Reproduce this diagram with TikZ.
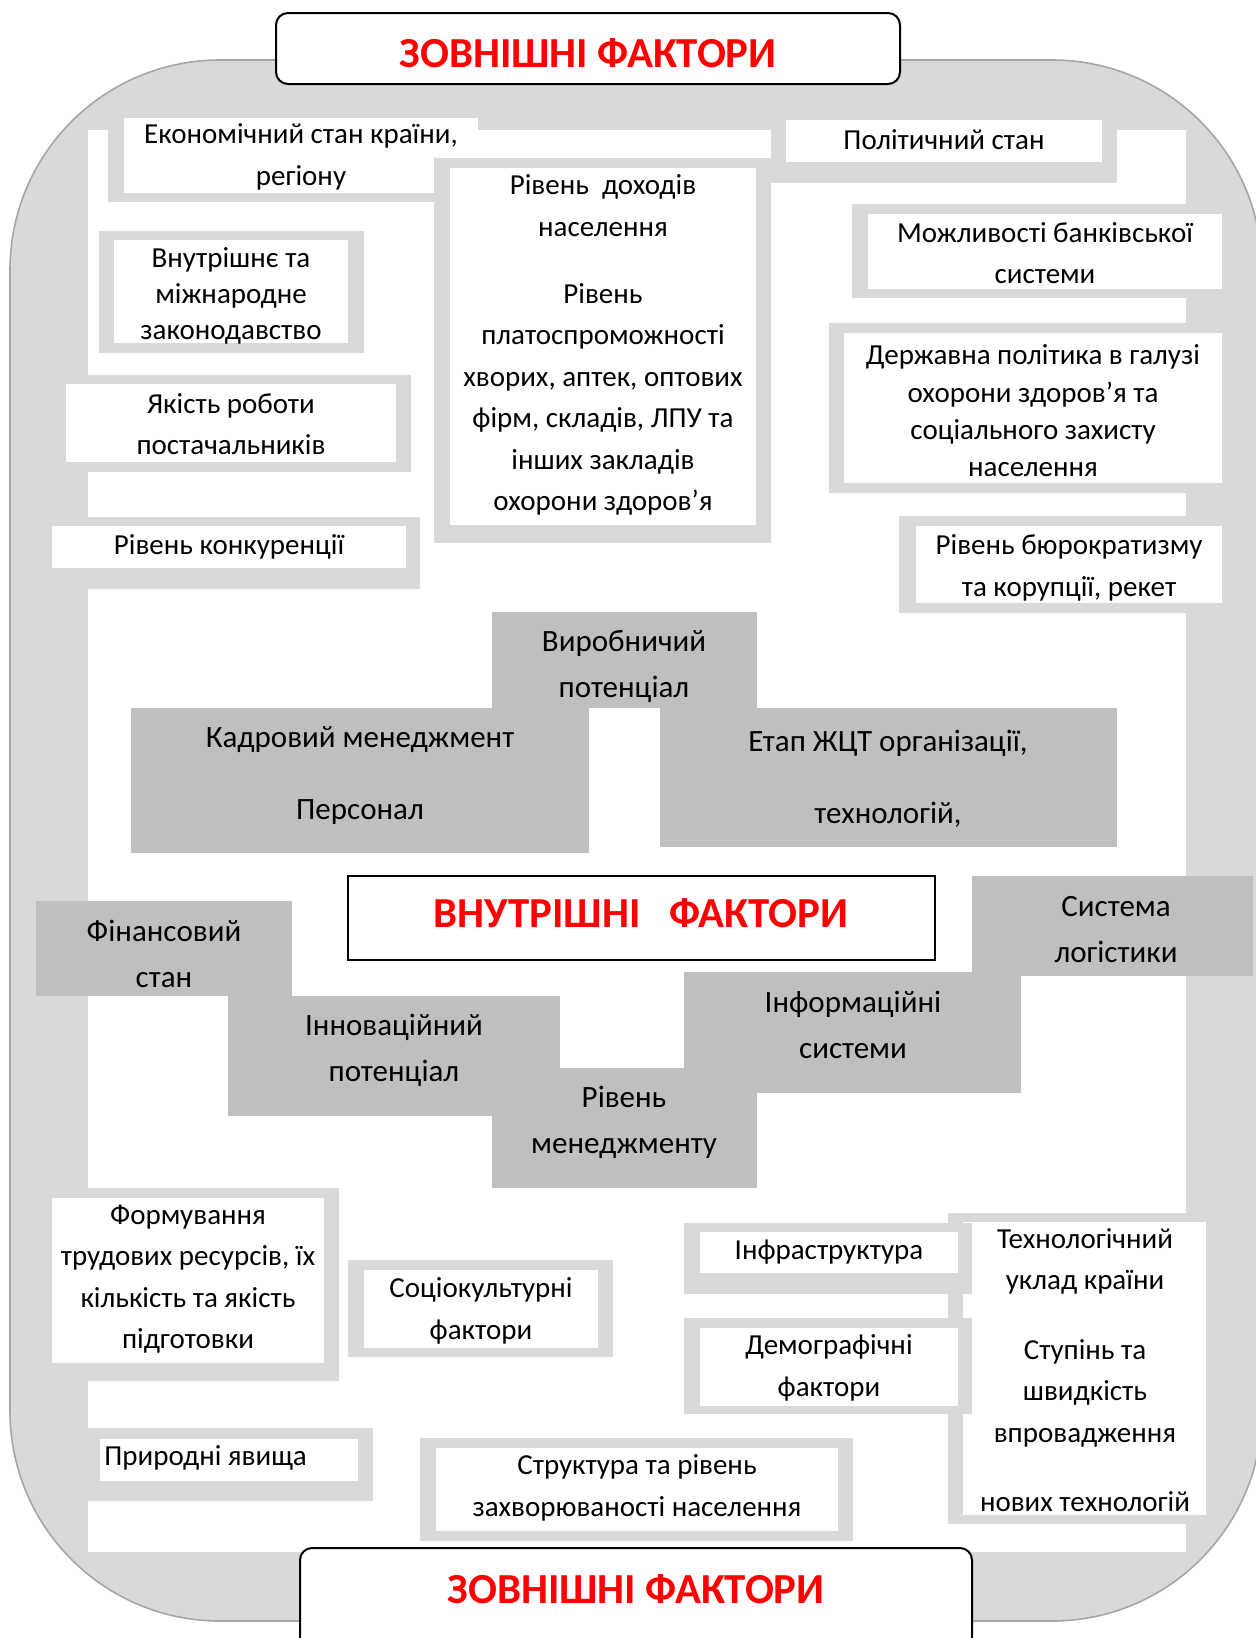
\documentclass[tikz,border=0pt]{standalone}
\usepackage{fontspec}
\setmainfont{Carlito}
\definecolor{framegray}{HTML}{D9D9D9}
\definecolor{blockgray}{HTML}{BFBFBF}
\definecolor{edgegray}{HTML}{A6A6A6}
\newcommand{\extfont}{\fontsize{14.5}{20.75}\selectfont}
\newcommand{\intfont}{\fontsize{15.5}{23}\selectfont}
\newcommand{\headfont}{\bfseries\fontsize{21.4}{25}\selectfont}
\tikzset{
    note/.style={align=center, font=\extfont, inner sep=0pt},
    factor/.style={align=center, font=\intfont, inner sep=0pt},
    headline/.style={anchor=base, font=\headfont, text=red},
    headbox/.style={draw=black, fill=white, line width=1pt}
}

\begin{document}
\begin{tikzpicture}[x=0.5pt, y=-0.5pt]
    \useasboundingbox (0,0) rectangle (1255,1638);
    \draw[edgegray, fill=framegray, line width=0.8pt, rounded corners=105pt] (10,60) rectangle (1262,1621);
    \fill[white] (88,130) rectangle (1186,1552);
    \foreach \xa/\ya/\xb/\yb/\xc/\yc/\xd/\yd in {
        108/110/434/202/124/118/478/193, 434/158/771/543/450/168/756/525,
        771/110/1117/183/786/120/1102/162, 852/204/1237/298/868/214/1222/289,
        99/231/364/353/114/240/348/343, 55/375/411/472/66/384/396/462,
        37/517/420/589/52/526/406/568, 829/323/1237/493/844/333/1222/483,
        899/516/1237/613/916/526/1222/603, 37/1188/339/1381/52/1198/324/1363,
        348/1260/613/1357/364/1270/598/1348, 86/1428/373/1501/100/1439/358/1481,
        420/1438/853/1541/436/1448/838/1531, 948/1213/1221/1524/963/1222/1206/1515,
        684/1223/972/1294/700/1232/958/1273, 684/1318/972/1414/700/1328/958/1406}
    {
        \fill[framegray] (\xa,\ya) rectangle (\xb,\yb);
        \fill[white] (\xc,\yc) rectangle (\xd,\yd);
    }
    \foreach \xa/\ya/\xb/\yb in {492/612/757/708, 131/708/589/853, 660/708/1117/847,
        36/901/292/996, 228/996/560/1116, 492/1068/757/1188, 684/972/1021/1093,
        972/876/1253/976}
        \fill[blockgray] (\xa,\ya) rectangle (\xb,\yb);

    \node[note] (econ) at (301,157) {Економічний стан країни,\\регіону};
    \node[note] (income) at (603,345) {Рівень~ доходів\\населення\\[12.75pt]Рівень\\платоспроможності\\хворих, аптек, оптових\\фірм, складів, ЛПУ та\\інших закладів\\охорони здоров’я};
    \node[note] (politics) at (944,140) {Політичний стан};
    \node[note] (bank) at (1045,253) {Можливості банківської\\системи};
    \node[note, font=\fontsize{14.5}{18}\selectfont] (law) at (231,296) {Внутрішнє та\\міжнародне\\законодавство};
    \node[note] (suppliers) at (231,424) {Якість роботи\\постачальників};
    \node[note] (competition) at (229,547) {Рівень конкуренції};
    \node[note, font=\fontsize{14.5}{18.7}\selectfont] (statepolicy) at (1033,411) {Державна політика в галузі\\охорони здоров’я та\\соціального захисту\\населення};
    \node[note] (bureaucracy) at (1069,568) {Рівень бюрократизму\\та корупції, рекет};
    \node[note] (labour) at (188,1279) {Формування\\трудових ресурсів, їх\\кількість та якість\\підготовки};
    \node[note] (sociocult) at (481,1311) {Соціокультурні\\фактори};
    \node[note, anchor=west] (nature) at (104,1458) {Природні явища};
    \node[note] (morbidity) at (637,1488) {Структура та рівень\\захворюваності населення};
    \node[note] (techlevel) at (1085,1370) {Технологічний\\уклад країни\\[14pt]Ступінь та\\швидкість\\впровадження\\[14pt]нових технологій};
    \node[note] (infra) at (829,1252) {Інфраструктура};
    \node[note] (demography) at (829,1368) {Демографічні\\фактори};

    \node[factor] (production) at (624,666) {Виробничий\\потенціал};
    \node[factor] (hrm) at (360,776) {Кадровий менеджмент\\[13pt]Персонал};
    \node[factor] (lifecycle) at (888,779) {Етап ЖЦТ організації,\\[13pt]технологій,};
    \node[factor] (finance) at (164,954) {Фінансовий\\стан};
    \node[factor] (innovation) at (394,1050) {Інноваційний\\потенціал};
    \node[factor] (management) at (624,1122) {Рівень\\менеджменту};
    \node[factor] (infosys) at (853,1025) {Інформаційні\\системи};
    \node[factor] (logistics) at (1116,930) {Система\\логістики};

    \draw[headbox, rounded corners=6pt] (276,13) rectangle (900,84);
    \node[headline] (topTitle) at (588,67) {ЗОВНІШНІ ФАКТОРИ};
    \draw[headbox, line width=1.2pt] (348,876) rectangle (935,960);
    \node[headline] (innerTitle) at (641,927) {ВНУТРІШНІ\ \ \ ФАКТОРИ};
    \draw[headbox, rounded corners=6pt] (300,1548) rectangle (972,1700);
    \node[headline] (bottomTitle) at (636,1603) {ЗОВНІШНІ ФАКТОРИ};
\end{tikzpicture}
\end{document}
